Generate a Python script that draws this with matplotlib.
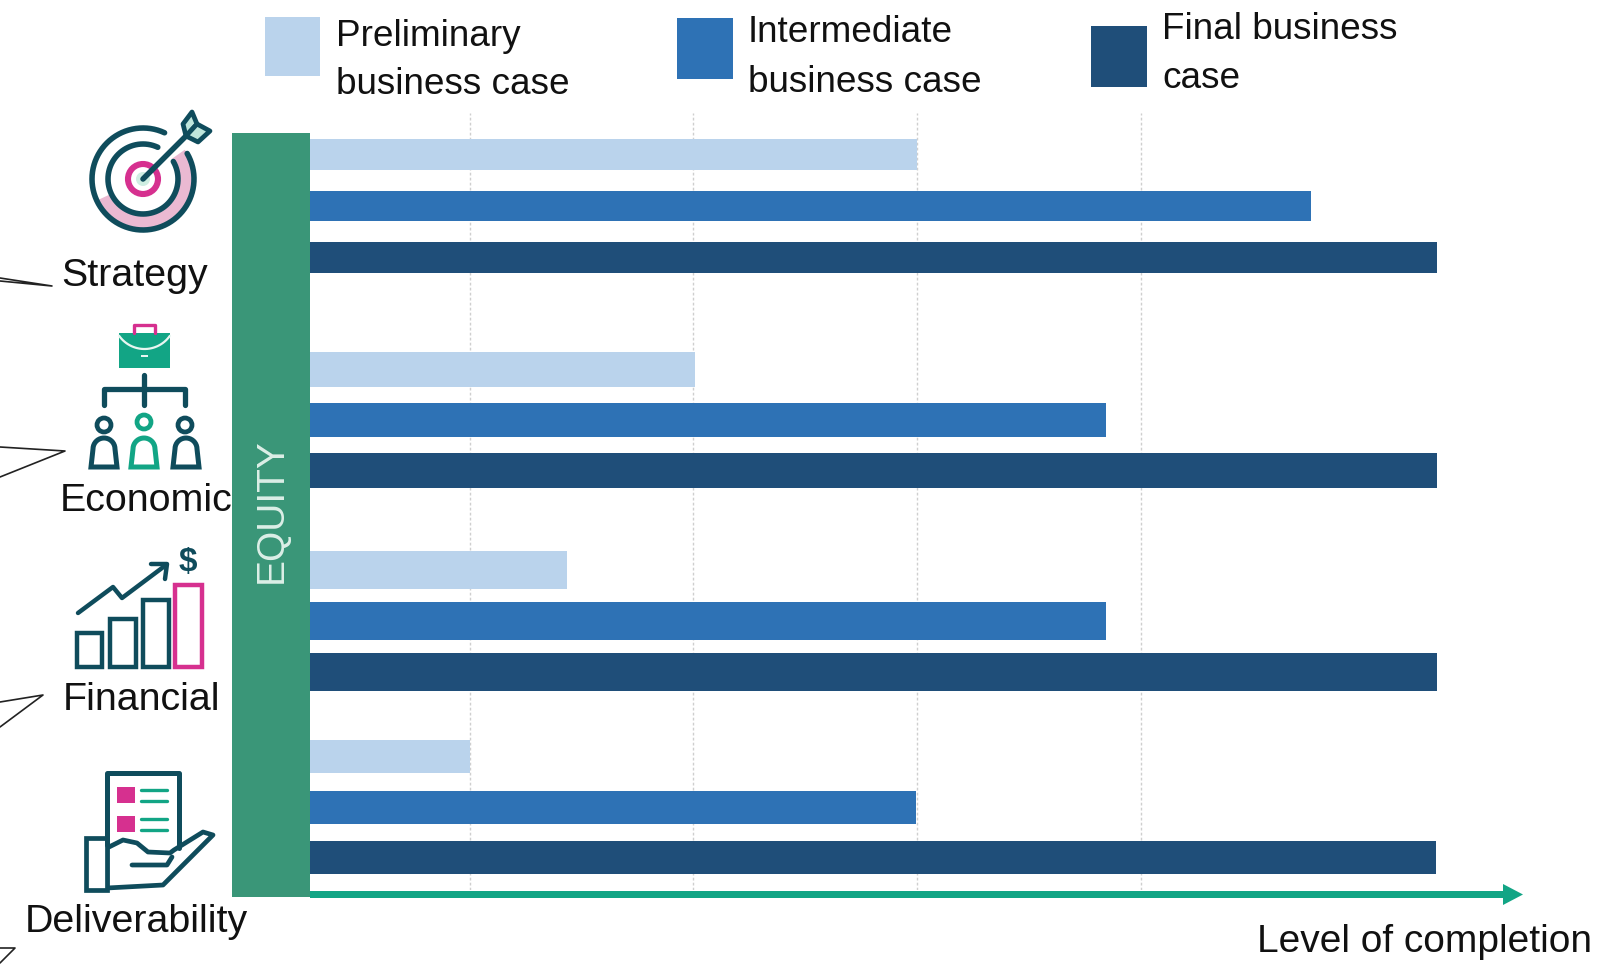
import numpy as np
import matplotlib
matplotlib.use("Agg")
import matplotlib.pyplot as plt
from matplotlib.patches import Polygon, Rectangle, Circle

W, H = 1614, 966
plt.rcParams['font.family'] = ['Liberation Sans', 'DejaVu Sans']

# ---- data -------------------------------------------------------------
categories = ["Strategy", "Economic", "Financial", "Deliverability"]
series_names = [["Preliminary", "business case"],
                ["Intermediate", "business case"],
                ["Final business", "case"]]
preliminary = [53.9, 34.2, 22.8, 14.2]
intermediate = [88.8, 70.6, 70.6, 53.8]
final_case = [100.0, 100.0, 100.0, 99.9]
grid_levels = [14.2, 34.0, 53.9, 73.7]

# ---- layout -----------------------------------------------------------
group_y = [206, 420, 621, 807]
group_step = [51.5, 50.5, 51, 50.5]
bar_h = [30.5, 34.5, 38, 33]

LIGHT, MID, DARK = "#bad3ec", "#2e72b5", "#1f4e79"
BAND, TEAL, INK, MAGENTA, PINK, GREEN = ("#3a9678", "#12a585", "#0f4c5c",
                                         "#d6308f", "#eab9d2", "#12a585")
TXT = "#111111"
FS = 28
FS_LEG = 26.6

fig = plt.figure(figsize=(W / 100, H / 100), dpi=100, facecolor="white")

# main bar axes: y axis runs in figure pixels so groups sit where they do
x0, x1, y_top, y_bot = 310, 1437, 113, 890
ax = fig.add_axes([x0 / W, 1 - y_bot / H, (x1 - x0) / W, (y_bot - y_top) / H])
ax.set_xlim(0, 100)
ax.set_ylim(y_bot, y_top)
ax.axis("off")
ax.vlines(grid_levels, y_bot, y_top, colors="#cfcfcf", linewidth=1.0,
          linestyles=(0, (2, 1.6)), zorder=1)
for vals, col, k in zip((preliminary, intermediate, final_case),
                        (LIGHT, MID, DARK), (-1, 0, 1)):
    ys = [g + k * s for g, s in zip(group_y, group_step)]
    ax.barh(ys, vals, height=bar_h, color=col, zorder=2)

# overlay in pixel coordinates for decoration
ov = fig.add_axes([0, 0, 1, 1], zorder=5)
ov.set_xlim(0, W)
ov.set_ylim(H, 0)
ov.axis("off")
ov.patch.set_alpha(0)


def line(pts, color=INK, lw=3.4, **kw):
    p = np.array(pts, float)
    ov.plot(p[:, 0], p[:, 1], color=color, lw=lw, solid_capstyle=kw.pop("cap", "round"),
            solid_joinstyle="round", **kw)


def arc_pts(cx, cy, r, a0, a1, n=80):
    t = np.radians(np.linspace(a0, a1, n))
    return np.c_[cx + r * np.cos(t), cy - r * np.sin(t)]


def rect(x0, y0, x1, y1, **kw):
    ov.add_patch(Rectangle((x0, y0), x1 - x0, y1 - y0, **kw))


# equity band
rect(232, 133, 310, 897, facecolor=BAND, edgecolor="none", zorder=3)
ov.text(272, 511, "EQUITY", rotation=90, color="#dcefe7", fontsize=28,
        ha="center", va="center", zorder=4)

# axis arrow
rect(310, 891, 1505, 898, facecolor=TEAL, edgecolor="none")
ov.add_patch(Polygon([(1503, 884), (1523, 894.5), (1503, 905)], closed=True,
                     facecolor=TEAL, edgecolor="none"))
ov.text(1257, 952, "Level of completion", fontsize=FS, color=TXT, ha="left", va="baseline")

# legend
swatches = [(264.5, 16.5, 320, 76), (677, 17.5, 733, 79), (1091, 26, 1147, 86.5)]
text_pos = [(336, 46, 94), (748, 42, 92), (1162, 39, 88)]
for sw, col, names, tp in zip(swatches, (LIGHT, MID, DARK), series_names, text_pos):
    rect(sw[0], sw[1], sw[2], sw[3], facecolor=col, edgecolor="none")
    ov.text(tp[0], tp[1], names[0], fontsize=FS_LEG, color=TXT, va="baseline")
    ov.text(tp[0], tp[2], names[1], fontsize=FS_LEG, color=TXT, va="baseline")

# category labels
label_pos = [(135, 286), (146, 511), (141.5, 710), (136, 932)]
for name, (lx, ly) in zip(categories, label_pos):
    ov.text(lx, ly, name, fontsize=FS + 0.4, color=TXT, ha="center", va="baseline", zorder=6)

# leader lines at the left edge
for pts in ([(0, 278), (52, 286), (0, 281)],
            [(0, 447), (65, 451), (0, 477)],
            [(0, 702), (43, 695), (0, 727)],
            [(0, 948), (15, 948), (0, 963)]):
    line(pts, color="#222222", lw=1.2)

# --- icon: target
cx, cy = 143, 179
ring = np.r_[arc_pts(cx, cy, 51, 205, 395), arc_pts(cx, cy, 35, 395, 205)]
ov.add_patch(Polygon(ring, closed=True, facecolor=PINK, edgecolor="none"))
line(arc_pts(cx, cy, 51, 65, 390), lw=4)
line(arc_pts(cx, cy, 35, 65, 390), lw=4)
ov.add_patch(Circle((cx, cy), 15, facecolor="white", edgecolor=MAGENTA, lw=4.4))
ov.add_patch(Circle((cx, cy), 7, facecolor="#cfeee2", edgecolor="none"))
line([(cx, cy), (186, 136)], lw=4)
for feather in ([(186, 136), (183, 124), (192, 112), (197, 124)],
                [(186, 136), (197, 124), (210, 131), (198, 142)]):
    ov.add_patch(Polygon(feather, closed=True, facecolor="#bfe6dc", edgecolor=INK, lw=3.4,
                         joinstyle="round"))

# --- icon: organisation
rect(119, 333, 170, 368, facecolor=GREEN, edgecolor="none")
line(arc_pts(144.5, 318, 31, 215, 325, 30), color="#e8f6f1", lw=1.6)
rect(141, 355, 148, 357, facecolor="#e8f6f1", edgecolor="none")
line([(134, 333), (134, 325), (155, 325), (155, 333)], color=MAGENTA, lw=2.4)
line([(144, 375), (144, 405)], lw=3.8)
line([(104, 405), (104, 389), (185, 389), (185, 405)], lw=3.8)
for hx, hy, col, bx in ((104, 425, INK, 104), (144, 422, GREEN, 144), (185, 425, INK, 186)):
    ov.add_patch(Circle((hx, hy), 7, facecolor="white", edgecolor=col, lw=3.4))
    body = np.r_[[(bx - 13, 467)], arc_pts(bx, 449, 11, 180, 0, 20), [(bx + 13, 467)]]
    ov.add_patch(Polygon(body, closed=True, facecolor="white", edgecolor=col, lw=3.6))

# --- icon: financial
for bx0, by0, bx1, col in ((77, 633, 102, INK), (110, 619, 136, INK), (143, 600, 169, INK),
                           (175, 585, 202, MAGENTA)):
    rect(bx0, by0, bx1, 667, facecolor="white", edgecolor=col, lw=3.2)
line([(78, 613), (113, 587), (122, 598), (166, 565)], lw=3.2)
line([(151, 564), (167, 564), (165, 579)], lw=3.2)
ov.text(188, 562, "$", fontsize=24, fontweight="bold", color=INK, ha="center", va="center")

# --- icon: deliverability
line([(107, 845), (107, 773), (179, 773), (179, 848)], lw=3.6)
for yy in (787, 816):
    rect(117, yy, 135, yy + 16, facecolor=MAGENTA, edgecolor="none")
for yy in (790, 801, 819, 830):
    line([(141, yy), (167, yy)], color=GREEN, lw=2.4)
hand = [(107, 848), (123, 840), (137, 843), (148, 852), (170, 853), (174, 850),
        (203, 832), (213, 835), (163, 885), (107, 888)]
ov.add_patch(Polygon(hand, closed=True, facecolor="white", edgecolor=INK, lw=3.4,
                     joinstyle="round"))
rect(86, 838, 107, 890, facecolor="white", edgecolor=INK, lw=3.4)
line([(132, 865), (167, 865), (172, 857)], lw=3.4)

fig.savefig("out.png", dpi=100, facecolor="white")
